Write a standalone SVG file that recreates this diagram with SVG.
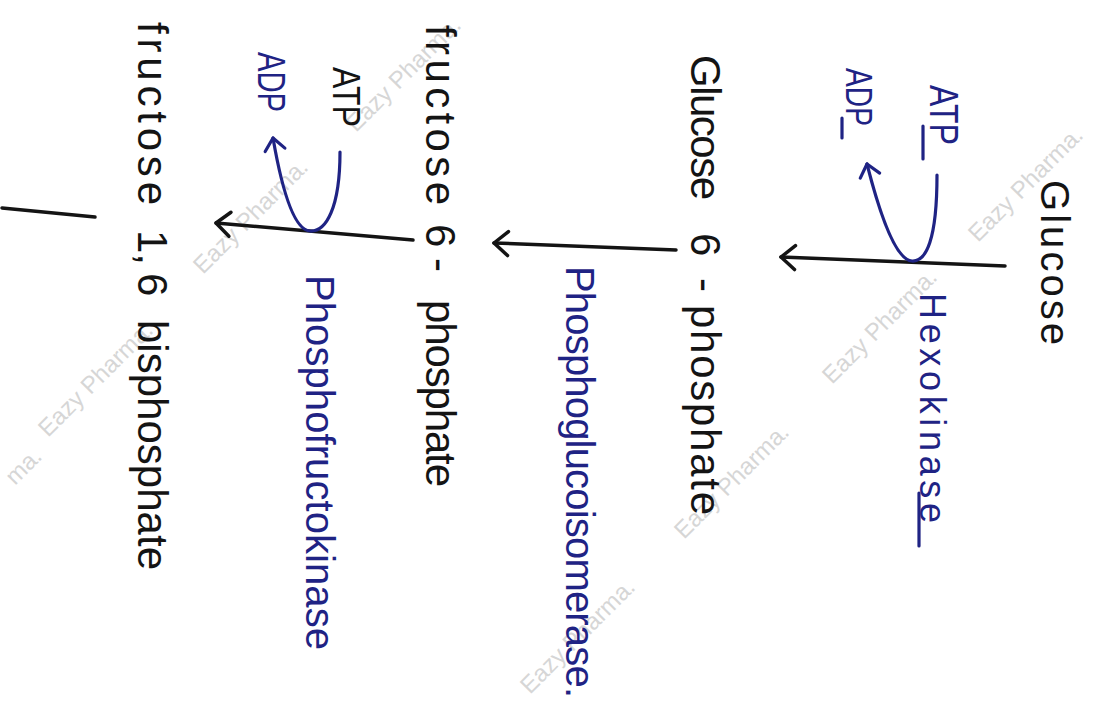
<svg xmlns="http://www.w3.org/2000/svg" width="1099" height="707" viewBox="0 0 1099 707">
<style>
.blk{fill:#141414;font-family:"Liberation Sans",Arial,sans-serif;}
.blu{fill:#1f2384;font-family:"Liberation Sans",Arial,sans-serif;}
.wm{fill:#d6d6d6;font-family:"Liberation Sans",Arial,sans-serif;font-size:24px;}
.ln{stroke:#141414;stroke-width:3.5;fill:none;stroke-linecap:round;}
.bl{stroke:#1f2384;stroke-width:3.2;fill:none;stroke-linecap:round;}
</style>
<defs>
<marker id="ahK" markerUnits="userSpaceOnUse" markerWidth="30" markerHeight="30" viewBox="-20 -15 25 30" refX="0" refY="0" orient="auto">
<path d="M-14,-12 L0,0 L-14,12" fill="none" stroke="#141414" stroke-width="3.5" stroke-linecap="round" stroke-linejoin="round"/>
</marker>
<marker id="ahB" markerUnits="userSpaceOnUse" markerWidth="30" markerHeight="30" viewBox="-20 -15 25 30" refX="0" refY="0" orient="auto">
<path d="M-12,-10 L0,0 L-12,10" fill="none" stroke="#1f2384" stroke-width="3.2" stroke-linecap="round" stroke-linejoin="round"/>
</marker>
</defs>
<rect width="1099" height="707" fill="#ffffff"/>

<g id="watermarks">
<text class="wm" transform="translate(978,243) rotate(-45)">Eazy Pharma.</text>
<text class="wm" transform="translate(832,385) rotate(-45)">Eazy Pharma.</text>
<text class="wm" transform="translate(684,540) rotate(-45)">Eazy Pharma.</text>
<text class="wm" transform="translate(530,695) rotate(-45)">Eazy Pharma.</text>
<text class="wm" transform="translate(356,133) rotate(-45)">Eazy Pharma.</text>
<text class="wm" transform="translate(203,275) rotate(-45)">Eazy Pharma.</text>
<text class="wm" transform="translate(48,438) rotate(-45)">Eazy Pharma.</text>
<text class="wm" transform="translate(15,486) rotate(-45)">ma.</text>
</g>

<g id="connectors">
<line class="ln" x1="1005" y1="266" x2="781" y2="257" marker-end="url(#ahK)"/>
<line class="ln" x1="676" y1="250" x2="494" y2="243" marker-end="url(#ahK)"/>
<line class="ln" x1="413" y1="240" x2="216" y2="223" marker-end="url(#ahK)"/>
<line class="ln" x1="2" y1="208" x2="95" y2="217"/>
<path class="bl" d="M937,175 C937,240 926,262 912,261 C896,260 880,215 867,164" marker-end="url(#ahB)"/>
<path class="bl" d="M340,152 C340,208 326,232 310,231 C294,230 282,190 273,138" marker-end="url(#ahB)"/>
<line class="bl" x1="923" y1="126" x2="923" y2="159"/>
<line class="bl" x1="842" y1="118" x2="842" y2="138"/>
<line class="bl" x1="919" y1="493" x2="919" y2="546"/>
</g>

<g id="glucose" transform="translate(1041,0) rotate(90)">
<text class="blk" x="180" y="0" font-size="40" textLength="165" lengthAdjust="spacing">Glucose</text>
</g>

<g id="atp1" transform="translate(930,0) rotate(90)">
<text class="blu" x="85" y="0" font-size="40" textLength="60" lengthAdjust="spacingAndGlyphs">ATP</text>
</g>
<g id="adp1" transform="translate(846,0) rotate(90)">
<text class="blu" x="68" y="0" font-size="36" textLength="58" lengthAdjust="spacingAndGlyphs">ADP</text>
</g>
<g id="hexokinase" transform="translate(920,0) rotate(90)">
<text class="blu" x="293" y="0" font-size="36" textLength="230" lengthAdjust="spacing">Hexokinase</text>
</g>

<g id="g6p" transform="translate(691,0) rotate(90)">
<text class="blk" x="55" y="0" font-size="42" textLength="145" lengthAdjust="spacing">Glucose</text>
<text class="blk" x="233" y="0" font-size="42">6</text>
<text class="blk" x="278" y="0" font-size="42">-</text>
<text class="blk" x="305" y="0" font-size="42" textLength="210" lengthAdjust="spacing">phosphate</text>
</g>

<g id="pgi" transform="translate(566,0) rotate(90)">
<text class="blu" x="266" y="0" font-size="40" textLength="432" lengthAdjust="spacing">Phosphoglucoisomerase.</text>
</g>

<g id="f6p" transform="translate(426,0) rotate(90)">
<text class="blk" x="25" y="0" font-size="42" textLength="180" lengthAdjust="spacing">fructose</text>
<text class="blk" x="224" y="0" font-size="42">6</text>
<text class="blk" x="258" y="0" font-size="42">-</text>
<text class="blk" x="300" y="0" font-size="42" textLength="187" lengthAdjust="spacing">phosphate</text>
</g>

<g id="atp2" transform="translate(333,0) rotate(90)">
<text class="blk" x="67" y="0" font-size="38" textLength="60" lengthAdjust="spacingAndGlyphs">ATP</text>
</g>
<g id="adp2" transform="translate(258,0) rotate(90)">
<text class="blu" x="52" y="0" font-size="38" textLength="60" lengthAdjust="spacingAndGlyphs">ADP</text>
</g>
<g id="pfk" transform="translate(306,0) rotate(90)">
<text class="blu" x="275" y="0" font-size="40" textLength="375" lengthAdjust="spacing">Phosphofructokinase</text>
</g>

<g id="f16bp" transform="translate(138,0) rotate(90)">
<text class="blk" x="22" y="0" font-size="42" textLength="183" lengthAdjust="spacing">fructose</text>
<text class="blk" x="230" y="0" font-size="42">1,</text>
<text class="blk" x="273" y="0" font-size="42">6</text>
<text class="blk" x="320" y="0" font-size="42" textLength="250" lengthAdjust="spacing">bisphosphate</text>
</g>
</svg>
